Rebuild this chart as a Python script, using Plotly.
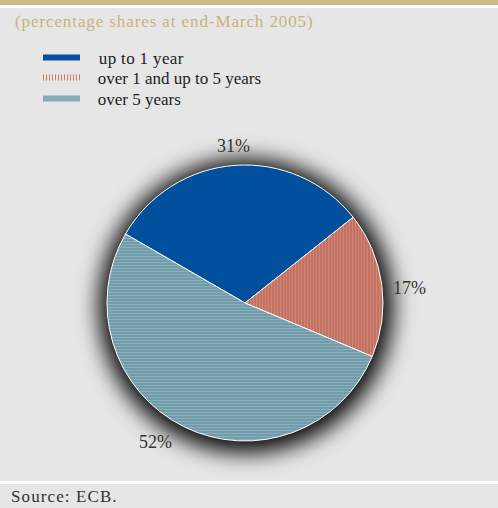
import base64
import math
import plotly.graph_objects as go

# ---- data ----
categories = ["up to 1 year", "over 1 and up to 5 years", "over 5 years"]
shares = [31, 17, 52]
subtitle = "(percentage shares at end-March 2005)"
source_note = "Source: ECB."

# ---- styling ----
W, H = 498, 508
BG = "#e6e6e6"
GOLD = "#cbbd85"
SERIF = "Liberation Serif, Times New Roman, serif"
base_colors = ["#00509d", "#bf6c5d", "#6b98a6"]
stripe_colors = ["#00509d", "#e3a293", "#a9c4cc"]
shapes_pat = ["", "|", "-"]
ROTATION = -60

# pie geometry in pixels
cx, cy, r = 245, 303, 138
label_gap = [19, 27, 27]      # px beyond the rim, label placement tweak
label_nudge = [0, 2.5, 6.5]   # degrees, label placement tweak


def px_x(v):
    return v / W


def px_y(v):
    return 1 - v / H


fig = go.Figure()

fig.add_trace(go.Pie(
    labels=categories,
    values=shares,
    sort=False,
    direction="clockwise",
    rotation=ROTATION,
    textinfo="none",
    marker=dict(
        colors=base_colors,
        line=dict(color="white", width=1),
        pattern=dict(shape=shapes_pat, fgcolor=stripe_colors,
                     bgcolor=base_colors, size=3, solidity=0.45,
                     fillmode="overlay"),
    ),
    domain=dict(x=[px_x(cx - r), px_x(cx + r)], y=[px_y(cy + r), px_y(cy - r)]),
    showlegend=False,
    hoverinfo="label+percent",
))

# legend entries (line-style keys as in the original), one legend box per row
legend_dash = ["solid", "1px,2px", "solid"]
legend_col = ["#00509d", "#c9786a", "#86aab6"]
legend_ids = ["legend", "legend2", "legend3"]
legend_rows = [58, 78, 99]
for name, col, dash, lid in zip(categories, legend_col, legend_dash, legend_ids):
    fig.add_trace(go.Scatter(
        x=[None], y=[None], mode="lines", name="\u00a0\u00a0\u00a0" + name,
        line=dict(color=col, width=6, dash=dash), legend=lid,
    ))

# percentage labels at the mid-angle of each slice
annotations = []
total = sum(shares)
cum = 0
for v, nudge, gap in zip(shares, label_nudge, label_gap):
    mid = ROTATION + (cum + v / 2) / total * 360 + nudge
    cum += v
    R = r + gap
    lx = cx + R * math.sin(math.radians(mid))
    ly = cy - R * math.cos(math.radians(mid))
    annotations.append(dict(
        text=f"{v}%", xref="paper", yref="paper", x=px_x(lx), y=px_y(ly),
        xanchor="center", yanchor="middle", showarrow=False,
        font=dict(family=SERIF, size=18, color="#333333")))

# shadow image (blurred disc) behind the pie
S = 440
svg = f'''<svg xmlns="http://www.w3.org/2000/svg" width="{S}" height="{S}">
<defs><filter id="b" x="-30%" y="-30%" width="160%" height="160%"><feGaussianBlur stdDeviation="11"/></filter></defs>
<circle cx="{S/2}" cy="{S/2}" r="{r+9}" fill="#000" fill-opacity="0.97" filter="url(#b)"/>
</svg>'''
src = "data:image/svg+xml;base64," + base64.b64encode(svg.encode()).decode()
sx, sy = cx + 1, cy + 3
fig.add_layout_image(dict(
    source=src, xref="paper", yref="paper",
    x=px_x(sx - S / 2), y=px_y(sy - S / 2),
    sizex=S / W, sizey=S / H, sizing="stretch",
    xanchor="left", yanchor="top", layer="below",
))

shapes = [
    dict(type="rect", xref="paper", yref="paper", x0=0, x1=1,
         y0=px_y(5), y1=1, fillcolor=GOLD, line=dict(width=0), layer="below"),
    dict(type="rect", xref="paper", yref="paper", x0=0, x1=1,
         y0=px_y(8), y1=px_y(5), fillcolor="white", line=dict(width=0), layer="below"),
    dict(type="rect", xref="paper", yref="paper", x0=0, x1=1,
         y0=px_y(484), y1=px_y(481), fillcolor="white", line=dict(width=0), layer="below"),
]

annotations += [
    dict(text=subtitle, xref="paper", yref="paper", x=px_x(13), y=px_y(21),
         xanchor="left", yanchor="middle", align="left", showarrow=False,
         font=dict(family=SERIF, size=17, color="#c6b47c")),
    dict(text=source_note, xref="paper", yref="paper", x=px_x(9), y=px_y(496),
         xanchor="left", yanchor="middle", align="left", showarrow=False,
         font=dict(family=SERIF, size=17, color="#333333")),
]

legend_common = dict(xanchor="left", yanchor="middle", bgcolor="rgba(0,0,0,0)",
                     itemwidth=37, borderwidth=0,
                     font=dict(family=SERIF, size=17, color="#222222"))
legend_layout = {}
for lid, row in zip(legend_ids, legend_rows):
    legend_layout[lid] = dict(x=px_x(38), y=px_y(row), **legend_common)

fig.update_layout(
    width=W, height=H,
    margin=dict(l=0, r=0, t=0, b=0),
    paper_bgcolor=BG, plot_bgcolor="rgba(0,0,0,0)",
    xaxis=dict(visible=False), yaxis=dict(visible=False),
    shapes=shapes, annotations=annotations,
    showlegend=True,
    **legend_layout,
)

post = """
document.body.style.margin='0';
document.body.style.overflow='hidden';
document.querySelectorAll('.annotation-text').forEach(function(t){
  if (t.textContent.indexOf('percentage') >= 0) t.style.letterSpacing='0.9px';
  else if (t.textContent.indexOf('Source') >= 0) t.style.letterSpacing='1.1px';
});
document.querySelectorAll('.legendtext').forEach(function(t){ t.style.letterSpacing='0.35px'; });
"""

fig.write_html("out.html", post_script=post, config={"displayModeBar": False})
